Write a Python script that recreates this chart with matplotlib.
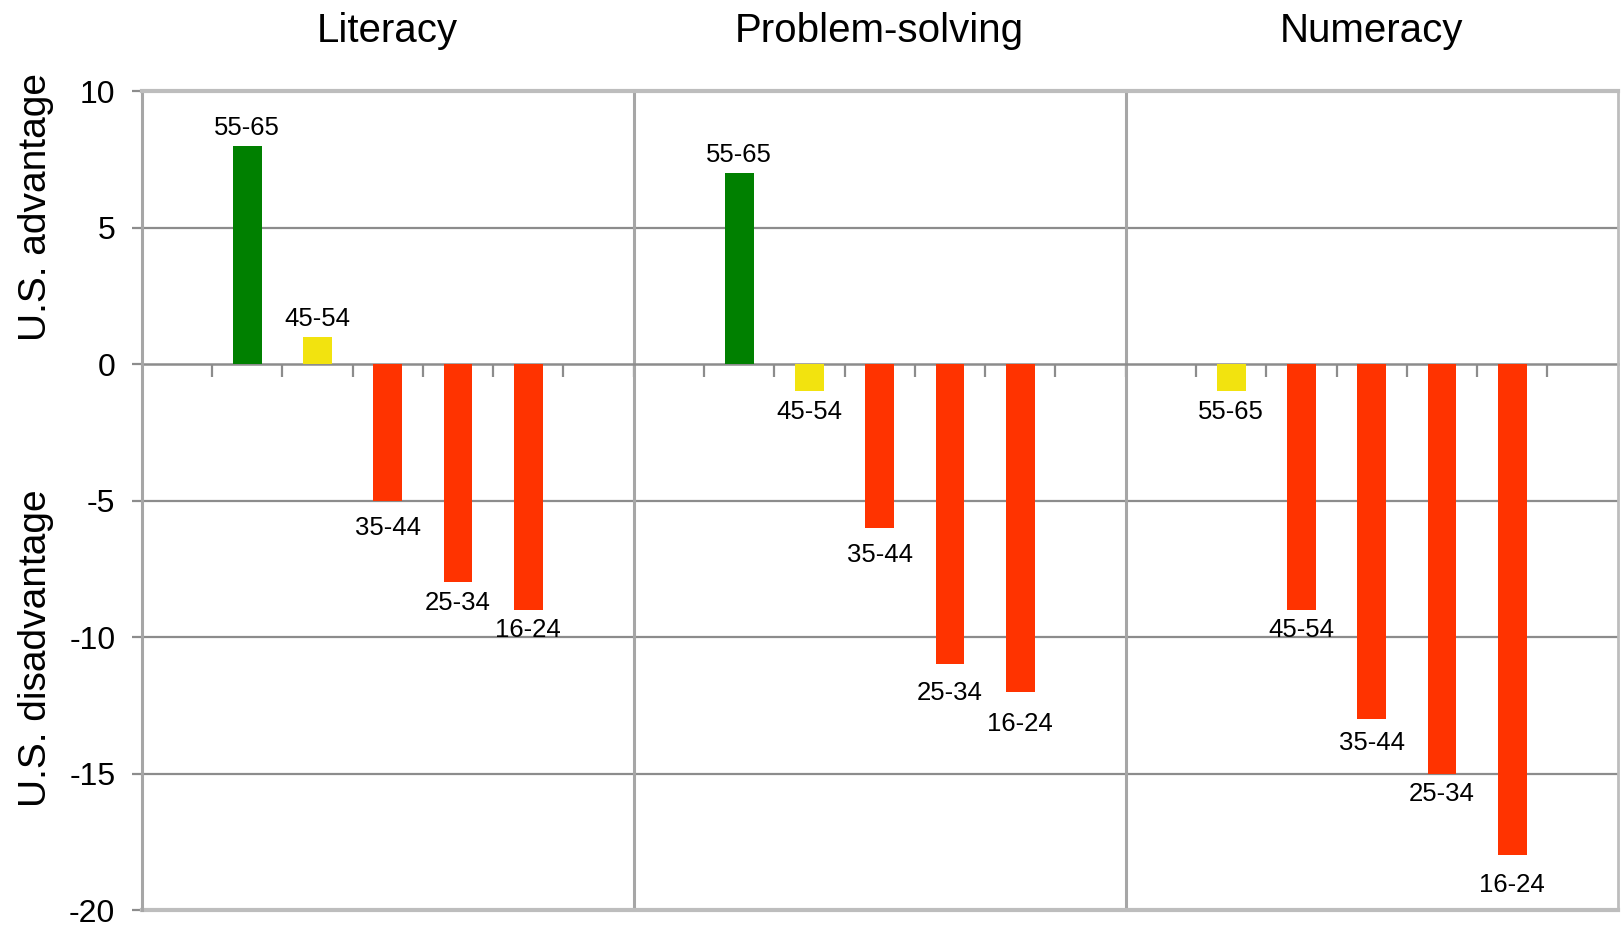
import matplotlib
matplotlib.use("Agg")
import matplotlib.pyplot as plt
from matplotlib.transforms import blended_transform_factory, offset_copy

plt.rcParams['font.family'] = ['Liberation Sans', 'DejaVu Sans']

# Score gap of U.S. adults vs. international average, by age group
skills = ["Literacy", "Problem-solving", "Numeracy"]
age_groups = ["55-65", "45-54", "35-44", "25-34", "16-24"]
literacy = [8, 1, -5, -8, -9]
problem_solving = [7, -1, -6, -11, -12]
numeracy = [-1, -9, -13, -15, -18]
series = [literacy, problem_solving, numeracy]

y_ticks = [-20, -15, -10, -5, 0, 5, 10]

# extra downward nudge (points) for labels under negative bars
label_nudge = [
    [0, 0, 5, 0, 0],
    [0, 0, 5, 6, 9],
    [0, 0, 3, 0, 7],
]

GREEN = "#008000"
YELLOW = "#f2e30f"
RED = "#ff3300"
GRID = "#8c8c8c"
FRAME = "#a6a6a6"
EDGE = "#bdbdbd"


def bar_color(v):
    if v >= 2:
        return GREEN
    if v >= -1:
        return YELLOW
    return RED


fig = plt.figure(figsize=(16.21, 9.27), dpi=100)
ax = fig.add_axes([0.0874, 0.0183, 0.9106, 0.8835])

slots = 7  # one empty slot each side of the five bars
n_panels = len(skills)
ax.set_xlim(0, slots * n_panels)
ax.set_ylim(y_ticks[0], y_ticks[-1])

for gi, values in enumerate(series):
    base = gi * slots + 1.5
    xs = [base + i for i in range(len(values))]
    ax.bar(xs, values, width=0.41, color=[bar_color(v) for v in values],
           zorder=3)
    for i, (x, v, lab) in enumerate(zip(xs, values, age_groups)):
        if v >= 0:
            tr = offset_copy(ax.transData, fig=fig, x=0, y=4, units='points')
            ax.text(x, v, lab, ha='center', va='bottom', fontsize=18.5,
                    transform=tr, zorder=4)
        else:
            dy = -6 - label_nudge[gi][i]
            tr = offset_copy(ax.transData, fig=fig, x=0, y=dy, units='points')
            ax.text(x, v, lab, ha='center', va='top', fontsize=18.5,
                    transform=tr, zorder=4)

# horizontal gridlines
for yv in y_ticks[1:-1]:
    if yv != 0:
        ax.axhline(yv, color=GRID, lw=1.6, zorder=1)

# zero baseline carries the category ticks
ax.spines['bottom'].set_position(('data', 0))
ax.spines['bottom'].set_color(GRID)
ax.spines['bottom'].set_linewidth(1.8)
ax.spines['bottom'].set_zorder(2)
ax.set_xticks(range(1, slots * n_panels))
ax.tick_params(axis='x', direction='out', length=9.5, width=1.6,
               color=GRID, labelbottom=False)

# panel separators
for k in range(1, n_panels):
    ax.axvline(k * slots, color=FRAME, lw=2.2, zorder=2)

# outer frame
ax.spines['left'].set_color(FRAME)
ax.spines['left'].set_linewidth(2.2)
ax.spines['top'].set_color(EDGE)
ax.spines['top'].set_linewidth(3)
ax.spines['right'].set_color(EDGE)
ax.spines['right'].set_linewidth(2)
ax.axhline(y_ticks[0], color=EDGE, lw=3, zorder=2, clip_on=False)

ax.set_yticks(y_ticks)
ax.set_yticklabels([str(t) for t in y_ticks])
ax.tick_params(axis='y', direction='out', length=7, width=1.6, color=GRID,
               labelsize=23, pad=12)

# panel titles
title_tr = blended_transform_factory(ax.transData, fig.transFigure)
for gi, name in enumerate(skills):
    ax.text(gi * slots + slots / 2, 0.967, name, transform=title_tr,
            ha='center', va='center', fontsize=29)

# two-part y-axis label
fig.text(0.022, 1 - 207 / 927, "U.S. advantage", rotation=90,
         ha='center', va='center', fontsize=28)
fig.text(0.022, 1 - 648 / 927, "U.S. disadvantage", rotation=90,
         ha='center', va='center', fontsize=28)

fig.savefig("out.png", dpi=100)
